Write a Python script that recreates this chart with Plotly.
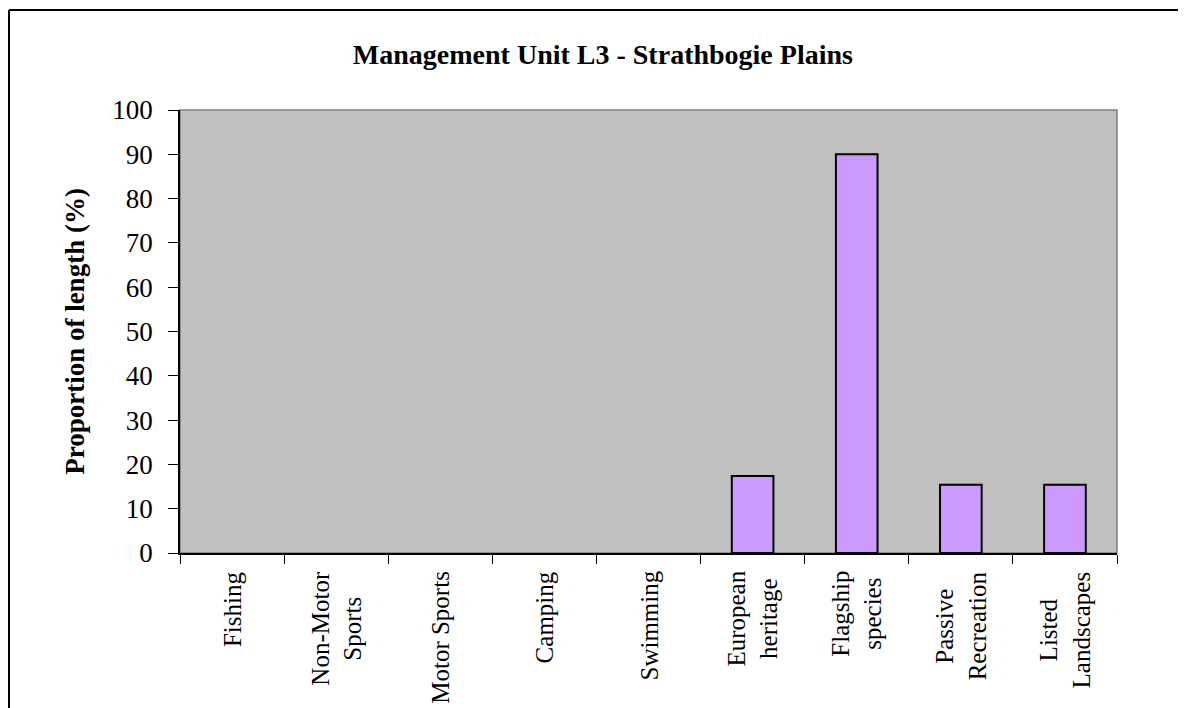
import plotly.graph_objects as go

categories = ["Fishing", "Non-Motor<br>Sports", "Motor Sports", "Camping", "Swimming",
              "European<br>heritage", "Flagship<br>species", "Passive<br>Recreation",
              "Listed<br>Landscapes"]
proportion = [0, 0, 0, 0, 0, 17.4, 90, 15.4, 15.4]
y_ticks = list(range(0, 101, 10))

serif = "Liberation Serif, Times New Roman, serif"

fig = go.Figure()
# empty categories get no outline, as in the original
fig.add_bar(x=categories, y=proportion,
            marker=dict(color="#CC99FF",
                        line=dict(color="black", width=[2 if v > 0 else 0 for v in proportion])))

# category labels drawn as rotated annotations so the two lines stay centred
for c in categories:
    fig.add_annotation(x=c, xref="x", y=0, yref="paper", yanchor="top", yshift=-16,
                       text=c, textangle=-90, showarrow=False, align="center",
                       font=dict(family=serif, size=25, color="black"))

# page has an 8px body margin, so the figure is a bit smaller than the window
fig.update_layout(
    width=1178, height=700,
    margin=dict(l=172, r=69, t=102, b=155),
    paper_bgcolor="white",
    plot_bgcolor="#C0C0C0",
    bargap=0.6,
    showlegend=False,
    font=dict(family=serif, color="black"),
    title=dict(text="<b>Management Unit L3 - Strathbogie Plains</b>",
               x=0.505, xanchor="center", y=0.934, yanchor="middle",
               font=dict(family=serif, size=28, color="black")),
)
fig.update_xaxes(showticklabels=False, ticks="outside", tickson="boundaries", ticklen=9,
                 tickcolor="black", showline=True, linecolor="black", linewidth=1.5,
                 showgrid=False, zeroline=False)
fig.update_yaxes(range=[0, 100], tickvals=y_ticks, ticks="outside", ticklen=10,
                 tickcolor="black", ticklabelstandoff=10,
                 tickfont=dict(family=serif, size=27, color="black"),
                 showline=True, linecolor="black", linewidth=1.5,
                 showgrid=False, zeroline=False,
                 title=dict(text="<b>Proportion of length (%)</b>", standoff=20,
                            font=dict(family=serif, size=27, color="black")))

# grey plot-area border and the outer chart frame (left and top edges only visible)
fig.add_shape(type="rect", xref="paper", yref="paper", x0=0, x1=1, y0=0, y1=1,
              line=dict(color="#808080", width=1.5), layer="below")
fig.add_shape(type="line", xref="paper", yref="paper", x0=-0.1825, x1=-0.1825,
              y0=1.2257, y1=-0.4, line=dict(color="black", width=2))
fig.add_shape(type="line", xref="paper", yref="paper", x0=-0.1825, x1=1.1,
              y0=1.2257, y1=1.2257, line=dict(color="black", width=2))

fig.write_html("out.html")
